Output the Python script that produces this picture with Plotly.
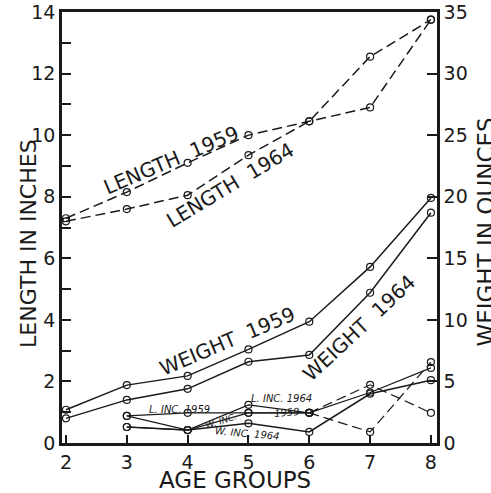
import plotly.graph_objects as go

# ---- data ----
ages = [2, 3, 4, 5, 6, 7, 8]
length_1959 = [7.3, 8.15, 9.1, 10.0, 10.45, 10.9, 13.75]   # inches
length_1964 = [7.2, 7.6, 8.05, 9.35, 10.45, 12.55, 13.75]  # inches
weight_1959 = [2.7, 4.7, 5.45, 7.6, 9.85, 14.3, 19.9]      # ounces
weight_1964 = [2.0, 3.5, 4.4, 6.6, 7.15, 12.2, 18.7]       # ounces

inc_ages = [3, 4, 5, 6, 7, 8]
l_inc_1959 = [0.88, 0.98, 0.98, 0.98, 0.36, 2.63]  # inches
l_inc_1964 = [0.52, 0.42, 1.24, 0.98, 1.89, 0.98]  # inches
w_inc_1959 = [2.2, 1.05, 2.45, 2.45, 4.1, 6.1]     # ounces
w_inc_1964 = [1.3, 1.05, 1.6, 0.9, 4.0, 5.1]       # ounces

left_ticks = list(range(0, 15))
left_labels = [str(v) if v % 2 == 0 else "" for v in left_ticks]
right_ticks = [0, 5, 10, 15, 20, 25, 30, 35]

FONT = "DejaVu Sans"
INK = "#1a1a1a"
DASH = "10px,5px"
mk = dict(symbol="circle-open", size=7, color=INK, line=dict(width=1.2, color=INK))

fig = go.Figure()

def add(x, y, dash="solid", axis="y", width=1.5):
    fig.add_trace(go.Scatter(x=x, y=y, mode="lines+markers", yaxis=axis,
                             line=dict(color=INK, width=width, dash=dash),
                             marker=mk, showlegend=False, hoverinfo="skip"))

add(ages, length_1959, DASH)
add(ages, length_1964, DASH)
add(ages, weight_1959, axis="y2")
add(ages, weight_1964, axis="y2")
# length increments: solid to group 6, dashed after
add(inc_ages[:4], l_inc_1959[:4], width=1.2)
add(inc_ages[3:], l_inc_1959[3:], DASH, width=1.2)
add(inc_ages[:4], l_inc_1964[:4], width=1.2)
add(inc_ages[3:], l_inc_1964[3:], DASH, width=1.2)
add(inc_ages, w_inc_1959, axis="y2", width=1.2)
add(inc_ages, w_inc_1964, axis="y2", width=1.6)

def label(text, x, y, angle, size=19, ref="data"):
    fig.add_annotation(text=text, x=x, y=y, textangle=angle, showarrow=False,
                       xref="x" if ref == "data" else "paper",
                       yref="y" if ref == "data" else "paper",
                       xanchor="center", yanchor="middle",
                       font=dict(family=FONT, size=size, color=INK))

SP = "&nbsp;&nbsp;"
label("LENGTH" + SP + "1959", 3.73, 9.19, -23, size=20)
label("LENGTH" + SP + "1964", 4.70, 8.38, -31, size=20)
label("WEIGHT" + SP + "1959", 4.66, 3.31, -23, size=20)
label("WEIGHT" + SP + "1964", 6.82, 3.73, -43, size=20)
label("<i>L. INC. 1959</i>", 3.87, 1.10, 0, size=10)
label("<i>L. INC. 1964</i>", 5.54, 1.43, 0, size=10)
label("<i>1959</i>", 5.63, 1.00, -5, size=10)
label("<i>W. INC.</i>", 4.55, 0.71, -18, size=9)
label("<i>W. INC. 1964</i>", 4.99, 0.32, 5, size=10)

label("LENGTH IN INCHES", -0.091, 0.464, -90, size=22, ref="paper")
label("WEIGHT IN OUNCES", 1.13, 0.49, -90, size=23, ref="paper")
label("AGE GROUPS", 0.461, -0.086, 0, size=23, ref="paper")

axis_common = dict(ticks="inside", tickwidth=1.5, tickcolor=INK, showline=True,
                   linewidth=2.5, linecolor=INK, showgrid=False, zeroline=False,
                   tickfont=dict(size=19), automargin=False)

fig.update_layout(
    width=491, height=493,
    margin=dict(l=62, r=54, t=12, b=50, autoexpand=False),
    paper_bgcolor="white", plot_bgcolor="white",
    font=dict(family=FONT, size=18, color=INK),
    xaxis=dict(range=[1.934, 8.10], tickvals=ages, ticklen=8, mirror=True,
               **axis_common),
    yaxis=dict(range=[0, 14], tickvals=left_ticks, ticktext=left_labels,
               ticklen=9, **axis_common),
    yaxis2=dict(range=[0, 35], tickvals=right_ticks, overlaying="y", side="right",
                ticklen=10, **axis_common),
)

fig.write_html("out.html", config={"displayModeBar": False},
               post_script="document.body.style.margin='0';"
                           "document.body.style.overflow='hidden';")
